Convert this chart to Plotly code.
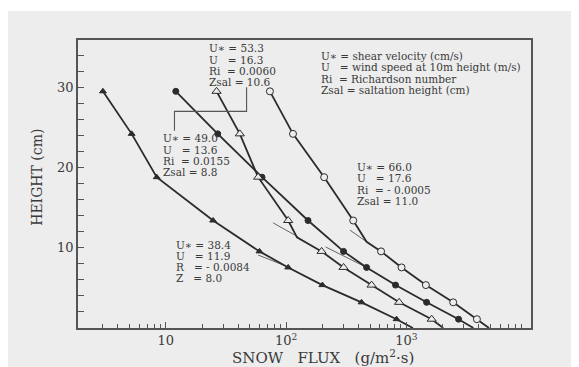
import numpy as np
import plotly.graph_objects as go

# ---------------- data ----------------
heights = [29.5, 24.2, 18.8, 13.4, 9.55, 7.55, 5.35, 3.2, 1.1]

flux_u38 = [3.0, 5.2, 8.4, 24.7, 60, 104, 200, 423, 827]
flux_u49 = [12.1, 27.0, 63, 152, 300, 466, 811, 1470, 2710]
flux_u53 = [26.4, 41.2, 58.5, 104, 197, 300, 513, 869, 1620]
flux_u66 = [73.3, 114, 207, 361, 615, 910, 1450, 2445, 3850]

# kink points (line break without a marker)
kink_u53 = (123, 11.3)
kink_u66 = (466, 10.75)

# where each profile line reaches the x axis (height 0)
flux_at_ground = {"u38": 1130, "u49": 3600, "u53": 2020, "u66": 4850}

# thin fitted lines (flux pair, height pair)
fit_u38 = ([58.5, 104], [9.1, 7.6])
fit_u49 = ([213, 466], [10.1, 7.55])
fit_u53 = ([78, 126], [13.1, 11.35])
fit_u66 = ([339, 466], [12.2, 10.75])

# bracket connecting labels
bracket_x = [46.9, 46.9, 11.8, 11.8]
bracket_y = [30.0, 27.0, 27.0, 24.6]

# text blocks: (flux at left edge, heights of each line, lines)
NB = "\u00a0"
blocks = [
    (21.8, [34.85, 33.45, 32.05, 30.7],
     ["U∗ = 53.3", "U" + NB * 3 + "= 16.3", "Ri" + NB * 2 + "= 0.0060", "Zsal = 10.6"]),
    (9.1, [23.65, 22.2, 20.8, 19.4],
     ["U∗ = 49.0", "U" + NB * 3 + "= 13.6", "Ri" + NB * 2 + "= 0.0155", "Zsal = 8.8"]),
    (372, [20.1, 18.65, 17.25, 15.85],
     ["U∗ = 66.0", "U" + NB * 3 + "= 17.6", "Ri" + NB * 2 + "= - 0.0005", "Zsal = 11.0"]),
    (11.65, [10.4, 9.0, 7.6, 6.25],
     ["U∗ = 38.4", "U" + NB * 3 + "= 11.9", "R" + NB * 3 + "= - 0.0084", "Z" + NB * 3 + "= 8.0"]),
    (188, [33.9, 32.5, 31.1, 29.7],
     ["U∗ = shear velocity (cm/s)", "U" + NB * 3 + "= wind speed at 10m height (m/s)",
      "Ri" + NB * 2 + "= Richardson number", "Zsal = saltation height (cm)"]),
]

x_tickvals = [10, 100, 1000]
x_ticktext = ["10", "10<sup>2</sup>", "10<sup>3</sup>"]
x_minor = [3, 4, 5, 6, 7, 8, 9, 20, 30, 40, 50, 60, 70, 80, 90,
           200, 300, 400, 500, 600, 700, 800, 900,
           2000, 3000, 4000, 5000, 6000, 7000, 8000, 9000]
y_tickvals = [10, 20, 30]
y_minor = [2, 4, 6, 8, 12, 14, 16, 18, 22, 24, 26, 28, 32, 34]

# ---------------- styling ----------------
BG = "#ededed"
INK = "#2b2b2b"
AX = "#555555"
TXT = "#3a3a3a"
FONT = "DejaVu Serif"

# figure geometry (page has an 8px body margin)
W, H = 571, 359
ML, MR, MT, MB = 70, 47.5, 32, 38.5
PW = W - ML - MR
PH = H - MT - MB


def px_to_paper_x(page_x):
    return (page_x - 8 - ML) / PW


def px_to_paper_y(page_y):
    return (H - MB - (page_y - 8)) / PH


fig = go.Figure()


def profile(flux, ground, kink=None):
    pts = list(zip(flux, heights))
    if kink is not None:
        pts.append(kink)
    pts.append((ground, 0.0))
    pts.sort(key=lambda p: -p[1])
    return [p[0] for p in pts], [p[1] for p in pts]


series = [
    (flux_u38, flux_at_ground["u38"], None, dict(symbol="triangle-up", size=6, color=INK,
                                                  line=dict(color=INK, width=1))),
    (flux_u49, flux_at_ground["u49"], None, dict(symbol="circle", size=6, color=INK,
                                                  line=dict(color=INK, width=1))),
    (flux_u53, flux_at_ground["u53"], kink_u53, dict(symbol="triangle-up", size=8, color=BG,
                                                      line=dict(color=INK, width=1))),
    (flux_u66, flux_at_ground["u66"], kink_u66, dict(symbol="circle", size=7, color=BG,
                                                      line=dict(color=INK, width=1))),
]

for fit in (fit_u38, fit_u49, fit_u53, fit_u66):
    fig.add_trace(go.Scatter(x=fit[0], y=fit[1], mode="lines",
                             line=dict(color="#555555", width=0.9),
                             hoverinfo="skip", showlegend=False))

for flux, ground, kink, mk in series:
    lx, ly = profile(flux, ground, kink)
    fig.add_trace(go.Scatter(x=lx, y=ly, mode="lines",
                             line=dict(color=INK, width=1.8),
                             showlegend=False, hoverinfo="skip"))
    fig.add_trace(go.Scatter(x=flux, y=heights, mode="markers",
                             marker=mk, showlegend=False))

fig.add_trace(go.Scatter(x=bracket_x, y=bracket_y, mode="lines",
                         line=dict(color="#555555", width=1.1),
                         hoverinfo="skip", showlegend=False))

annotations = []
for xleft, ys, lines in blocks:
    for yy, txt in zip(ys, lines):
        annotations.append(dict(
            x=np.log10(xleft), y=yy, xref="x", yref="y", text=txt,
            showarrow=False, xanchor="left", yanchor="middle",
            font=dict(family=FONT, size=10.5, color=TXT)))

# axis titles
annotations.append(dict(
    x=px_to_paper_x(323.5), y=px_to_paper_y(357.5), xref="paper", yref="paper",
    text="SNOW" + NB * 3 + "FLUX" + NB * 3 + "(g/m<sup>2</sup>·s)",
    showarrow=False, xanchor="center", yanchor="middle",
    font=dict(family=FONT, size=15, color=TXT)))
annotations.append(dict(
    x=px_to_paper_x(37), y=px_to_paper_y(178), xref="paper", yref="paper",
    text="HEIGHT" + NB + "(cm)", textangle=-90,
    showarrow=False, xanchor="center", yanchor="middle",
    font=dict(family=FONT, size=14, color=TXT)))

shapes = [
    dict(type="rect", xref="paper", yref="paper", x0=-0.5, x1=1.5,
         y0=px_to_paper_y(11), y1=1.5, fillcolor="white", line=dict(width=0), layer="below"),
]

fig.update_layout(
    width=W, height=H,
    margin=dict(l=ML, r=MR, t=MT, b=MB, autoexpand=False),
    paper_bgcolor=BG, plot_bgcolor=BG,
    annotations=annotations, shapes=shapes,
    font=dict(family=FONT, color=TXT),
    xaxis=dict(
        type="log", range=[0.27, 4.035],
        tickvals=x_tickvals, ticktext=x_ticktext,
        ticks="inside", ticklen=6, tickwidth=1, tickcolor=AX,
        minor=dict(tickvals=x_minor, ticks="inside", ticklen=4, tickcolor=AX, tickwidth=1),
        showgrid=False, zeroline=False,
        showline=True, linecolor=AX, linewidth=1.5, mirror=True,
        tickfont=dict(family=FONT, size=13, color=TXT),
    ),
    yaxis=dict(
        range=[0, 35.9],
        tickvals=y_tickvals,
        ticks="inside", ticklen=6, tickwidth=1, tickcolor=AX,
        minor=dict(tickvals=y_minor, ticks="inside", ticklen=6, tickcolor=AX, tickwidth=1),
        showgrid=False, zeroline=False,
        showline=True, linecolor=AX, linewidth=1.5, mirror=True,
        tickfont=dict(family=FONT, size=13, color=TXT),
    ),
)

fig.write_html("out.html")
